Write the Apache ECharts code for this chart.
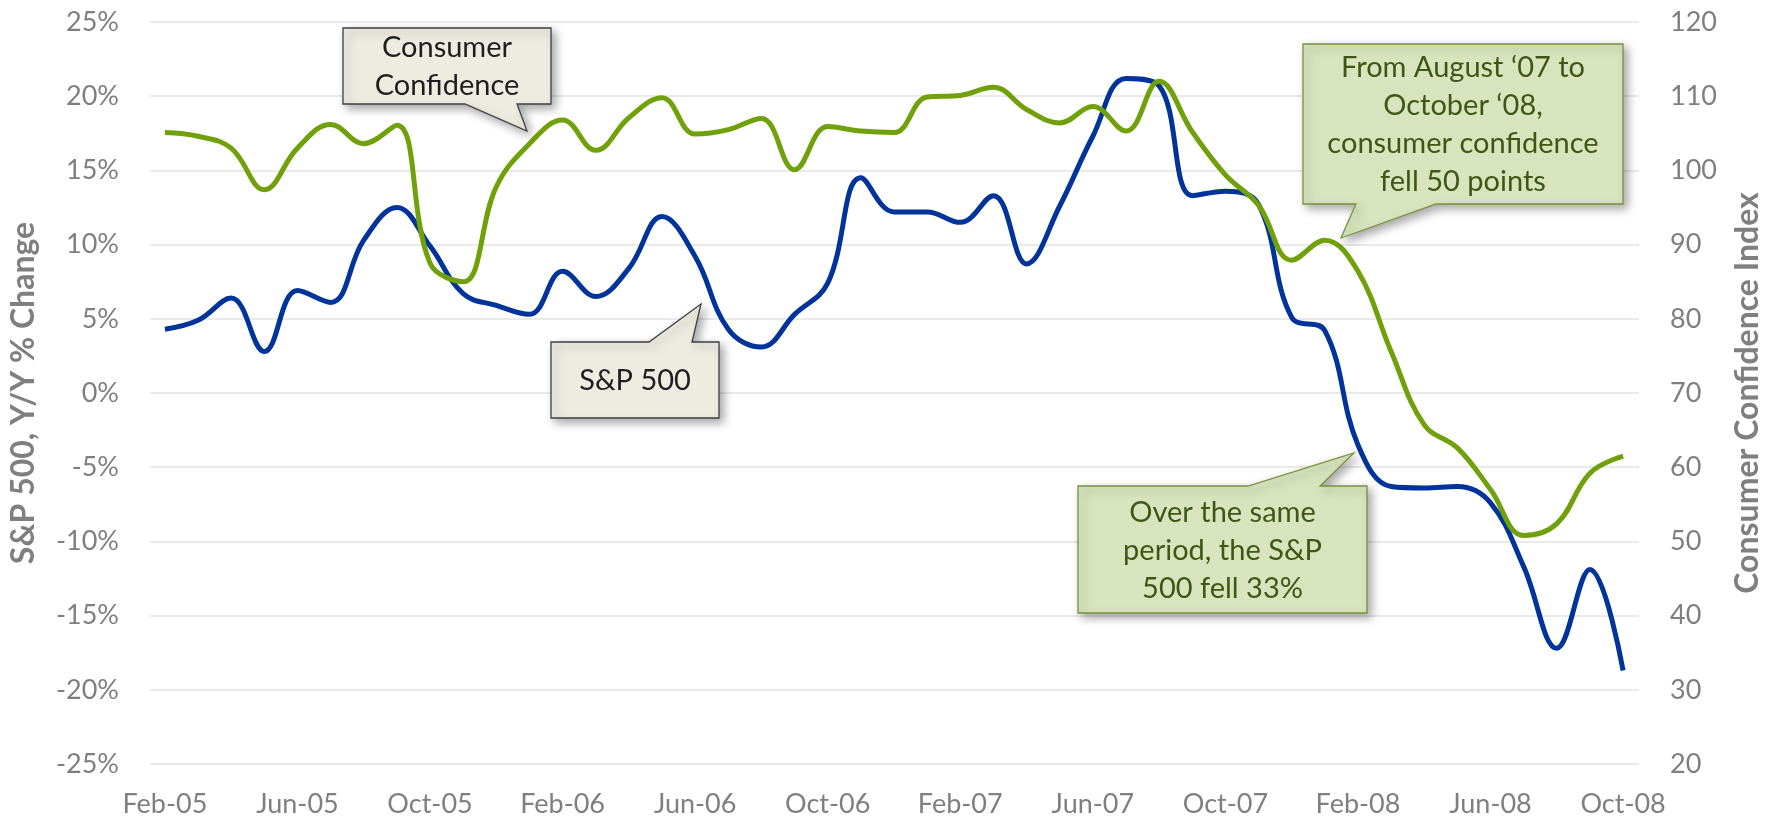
<!DOCTYPE html>
<html>
<head>
<meta charset="utf-8">
<title>S&amp;P 500 vs Consumer Confidence</title>
<script src="https://cdn.jsdelivr.net/npm/echarts@6.0.0/dist/echarts.min.js"></script>
<style>
  html, body { margin: 0; padding: 0; background: #fff; }
  #chart { width: 1777px; height: 822px; }
</style>
</head>
<body>
<div id="chart"></div>
<script>
// monthly, Feb-05 .. Oct-08
var months = ['Feb-05','Mar-05','Apr-05','May-05','Jun-05','Jul-05','Aug-05','Sep-05','Oct-05','Nov-05','Dec-05',
    'Jan-06','Feb-06','Mar-06','Apr-06','May-06','Jun-06','Jul-06','Aug-06','Sep-06','Oct-06','Nov-06','Dec-06',
    'Jan-07','Feb-07','Mar-07','Apr-07','May-07','Jun-07','Jul-07','Aug-07','Sep-07','Oct-07','Nov-07','Dec-07',
    'Jan-08','Feb-08','Mar-08','Apr-08','May-08','Jun-08','Jul-08','Aug-08','Sep-08','Oct-08'];

// S&P 500, Y/Y % change (left axis)
var sp500 = [4.3, 4.9, 6.4, 2.8, 6.9, 6.1, 10.3, 12.5, 9.9, 6.7, 5.9,
    5.3, 8.2, 6.5, 8.4, 11.9, 9.2, 4.3, 3.1, 5.3, 7.4, 14.5, 12.2,
    12.2, 11.5, 13.3, 8.7, 12.6, 17.3, 21.2, 20.7, 13.3, 13.6, 12.7, 5.1,
    4.2, -3.5, -6.3, -6.4, -6.3, -7.4, -11.7, -17.2, -11.9, -18.7];

// Consumer Confidence Index (right axis)
var confidence = [105.1, 104.6, 103.0, 97.4, 103.0, 106.2, 103.6, 106.1, 87.5, 85.0, 97.8,
    103.6, 106.8, 102.7, 107.1, 109.8, 104.9, 105.5, 107.0, 100.1, 105.9, 105.3, 105.1,
    109.9, 110.1, 111.2, 108.2, 106.4, 108.6, 105.3, 112.0, 105.2, 99.4, 95.3, 87.9,
    90.6, 86.4, 75.6, 65.7, 62.6, 57.0, 50.8, 52.4, 59.2, 61.5];

// every 4th month gets a label
var tickIndex = [0, 4, 8, 12, 16, 20, 24, 28, 32, 36, 40, 44];

var FONT = 'Lato, "Liberation Sans", sans-serif';
var GREY = '#7f7f7f';

// callout boxes: rect + pointer (base x1..x2 on one edge, tip)
var callouts = [
    { lines: ['Consumer', 'Confidence'], box: [343, 28, 551, 104], edge: 'bottom', base: [465, 517], tip: [527, 131],
      fill: '#eeece1', stroke: '#3f3f3f', color: '#1e1e1e' },
    { lines: ['S&P 500'], box: [551, 342, 719, 418], edge: 'top', base: [649, 692], tip: [701, 304],
      fill: '#eeece1', stroke: '#3f3f3f', color: '#1e1e1e' },
    { lines: ['From August \u201807 to', 'October \u201808,', 'consumer confidence', 'fell 50 points'],
      box: [1303, 44, 1623, 204], edge: 'bottom', base: [1356, 1436], tip: [1341, 238],
      fill: '#d7e4bd', stroke: '#77933c', color: '#3f5614' },
    { lines: ['Over the same', 'period, the S&P', '500 fell 33%'],
      box: [1078, 486, 1367, 613], edge: 'top', base: [1248, 1320], tip: [1354, 453],
      fill: '#d7e4bd', stroke: '#77933c', color: '#3f5614' }
];

function calloutGraphics(c) {
    var x1 = c.box[0], y1 = c.box[1], x2 = c.box[2], y2 = c.box[3];
    var pts;
    if (c.edge === 'bottom') {
        pts = [[x1, y1], [x2, y1], [x2, y2], [c.base[1], y2], c.tip, [c.base[0], y2], [x1, y2]];
    } else {
        pts = [[x1, y1], [c.base[0], y1], c.tip, [c.base[1], y1], [x2, y1], [x2, y2], [x1, y2]];
    }
    return [
        {
            type: 'polygon',
            z: 100,
            shape: { points: pts },
            style: {
                fill: c.fill, stroke: c.stroke, lineWidth: 1.3,
                shadowBlur: 10, shadowOffsetX: 4, shadowOffsetY: 4, shadowColor: 'rgba(0,0,0,0.35)'
            }
        },
        {
            type: 'text',
            z: 101,
            x: (x1 + x2) / 2,
            y: (y1 + y2) / 2 + 1,
            style: {
                text: c.lines.join('\n'),
                align: 'center',
                verticalAlign: 'middle',
                font: '29px ' + FONT,
                lineHeight: 38,
                fill: c.color
            }
        }
    ];
}

var graphics = [];
callouts.forEach(function (c) { graphics = graphics.concat(calloutGraphics(c)); });

var mychart = echarts.init(document.getElementById('chart'));

var option = {
    backgroundColor: '#fff',
    animation: false,
    textStyle: { fontFamily: FONT },
    grid: { left: 150, right: 138, top: 22, bottom: 58 },
    xAxis: {
        type: 'value',
        min: -0.45,
        max: 44.48,
        axisLine: { show: false },
        axisTick: { show: false },
        splitLine: { show: false },
        axisLabel: {
            customValues: tickIndex,
            formatter: function (v) { return months[Math.round(v)]; },
            color: GREY,
            fontSize: 27,
            margin: 27
        }
    },
    yAxis: [
        {
            type: 'value',
            min: -25,
            max: 25,
            interval: 5,
            position: 'left',
            name: 'S&P 500, Y/Y % Change',
            nameLocation: 'middle',
            nameRotate: 90,
            nameGap: 110,
            nameTextStyle: { color: GREY, fontSize: 32, fontWeight: 'bold' },
            axisLine: { show: false },
            axisTick: { show: false },
            axisLabel: { formatter: '{value}%', color: GREY, fontSize: 27, margin: 31 },
            splitLine: { lineStyle: { color: '#e3e3e3', width: 1.5 } }
        },
        {
            type: 'value',
            min: 20,
            max: 120,
            interval: 10,
            position: 'right',
            name: 'Consumer Confidence Index',
            nameLocation: 'middle',
            nameRotate: 90,
            nameGap: 93,
            nameTextStyle: { color: GREY, fontSize: 32, fontWeight: 'bold' },
            axisLine: { show: false },
            axisTick: { show: false },
            axisLabel: { color: GREY, fontSize: 27, margin: 31 },
            splitLine: { show: false }
        }
    ],
    series: [
        {
            name: 'S&P 500',
            type: 'line',
            yAxisIndex: 0,
            data: sp500.map(function (v, i) { return [i, v]; }),
            showSymbol: false,
            smooth: 0.4,
            lineStyle: { color: '#00349a', width: 5 }
        },
        {
            name: 'Consumer Confidence',
            type: 'line',
            yAxisIndex: 1,
            data: confidence.map(function (v, i) { return [i, v]; }),
            showSymbol: false,
            smooth: 0.4,
            lineStyle: { color: '#70a00a', width: 5 }
        }
    ],
    graphic: graphics
};

mychart.setOption(option, true);
</script>
</body>
</html>
